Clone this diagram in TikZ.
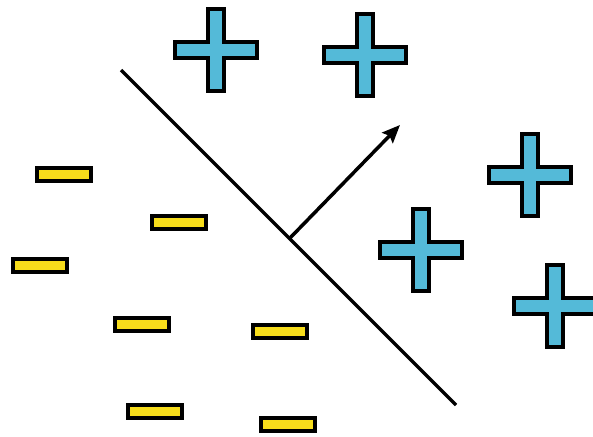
\documentclass[tikz,border=0pt]{standalone}
\usepackage{tikz}
\usetikzlibrary{arrows.meta}
\definecolor{plusblue}{RGB}{84,186,216}
\definecolor{minusyellow}{RGB}{247,221,27}

\begin{document}
\begin{tikzpicture}[
  x=1pt, y=-1pt,
  minus/.style={
    rectangle, draw, line width=4pt, fill=minusyellow,
    minimum width=54pt, minimum height=13pt, inner sep=0pt
  },
  plusline/.style={draw, line width=4pt, fill=plusblue, line join=miter},
  sep/.style={line width=3.5pt},
  arr/.style={-{Stealth[length=18pt, width=15pt, inset=3pt]}, line width=3.5pt},
  plussign/.pic={
    \path[plusline] (-8,-41) -- (8,-41) -- (8,-8) -- (41,-8) -- (41,8)
      -- (8,8) -- (8,41) -- (-8,41) -- (-8,8) -- (-41,8) -- (-41,-8)
      -- (-8,-8) -- cycle;
  }
]
\clip (0,0) rectangle (593,436);
\fill[white] (0,0) rectangle (593,436);

% positive class
\pic (p1) at (216,50) {plussign};
\pic (p2) at (364.5,55) {plussign};
\pic (p3) at (530,175) {plussign};
\pic (p4) at (421,250) {plussign};
\pic (p5) at (555,306) {plussign};

% negative class
\node[minus] (m1) at (64,174.5) {};
\node[minus] (m2) at (178.5,222) {};
\node[minus] (m3) at (40,265.5) {};
\node[minus] (m4) at (141.5,324.5) {};
\node[minus] (m5) at (280,331) {};
\node[minus] (m6) at (155,411.5) {};
\node[minus] (m7) at (288,424.5) {};

% separating line and normal
\coordinate (top) at (121,70);
\coordinate (bottom) at (456,405);
\coordinate (foot) at (289.5,238.5);
\coordinate (tip) at (400,125);

\draw[sep] (top) -- (bottom);
\draw[arr] (foot) -- (tip);

\end{tikzpicture}
\end{document}
